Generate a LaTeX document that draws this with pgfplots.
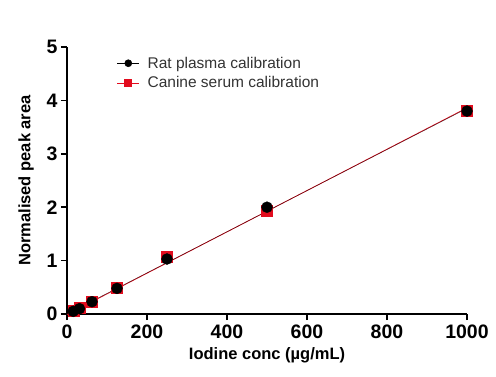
\documentclass[border=0pt]{standalone}
\usepackage{pgfplots}
\pgfplotsset{compat=1.18}
\usepackage{fontspec}
\setmainfont{Liberation Sans}
\definecolor{cred}{RGB}{226,12,30}
\begin{document}
\begin{tikzpicture}
\begin{axis}[
  at={(0pt,0pt)}, anchor=south west,
  scale only axis, width=400pt, height=267pt,
  xmin=0, xmax=1000, ymin=0, ymax=5,
  clip=false,
  axis lines=left,
  axis line style={-, line width=1.8pt, black},
  xtick={0,200,400,600,800,1000},
  ytick={0,1,2,3,4,5},
  tick align=outside,
  major tick length=6pt,
  tick style={line width=1.5pt, black},
  /pgf/number format/assume math mode=true,
  /pgf/number format/1000 sep={},
  ticklabel style={font=\fontsize{19.5}{21}\selectfont\bfseries},
  xticklabel style={yshift=-1pt},
  xlabel={Iodine conc (µg/mL)},
  ylabel={Normalised peak area},
  label style={font=\fontsize{16.5}{18}\selectfont\bfseries},
  xlabel style={yshift=-2pt},
  ylabel style={yshift=6pt},
  legend style={draw=none, fill=none, at={(0.122,0.975)}, anchor=north west,
    font=\fontsize{15.5}{17}\selectfont, text=black!80, row sep=3pt,
    inner sep=1pt, /tikz/every odd column/.append style={column sep=6pt}},
  legend image code/.code={\draw[mark repeat=2,mark phase=2,#1] plot coordinates {(0pt,0pt) (11pt,0pt) (22pt,0pt)};},
  legend cell align=left,
]
\addlegendimage{black, mark=*, mark size=3.5pt, line width=0.6pt}
\addlegendentry{Rat plasma calibration}
\addlegendimage{cred, mark=square*, mark size=3.5pt, line width=0.6pt}
\addlegendentry{Canine serum calibration}

% fit lines
\addplot[forget plot, cred, line width=0.8pt] coordinates {(0,-0.01) (1000,3.86)};
\addplot[forget plot, black, line width=0.5pt, opacity=0.6] coordinates {(0,0.0) (1000,3.85)};

% canine serum
\addplot[forget plot, only marks, mark=square*, mark size=5.5pt, cred] coordinates {
(15.6,0.07) (31.25,0.12) (62.5,0.23) (125,0.50) (250,1.07) (500,1.93) (1000,3.80)};
% rat plasma
\addplot[forget plot, only marks, mark=*, mark size=5.5pt, black] coordinates {
(15.6,0.05) (31.25,0.10) (62.5,0.23) (125,0.48) (250,1.03) (500,2.00) (1000,3.80)};
\end{axis}
\pgfresetboundingbox
\path (-67pt,-62pt) rectangle (429pt,314pt);
\end{tikzpicture}
\end{document}
